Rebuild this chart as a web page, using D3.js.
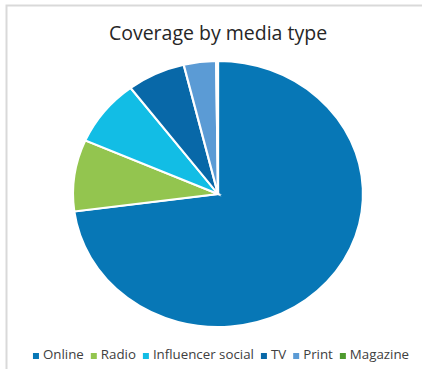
<!DOCTYPE html>
<html>
<head>
<meta charset="utf-8">
<script src="https://cdn.jsdelivr.net/npm/d3@7"></script>
<style>
  body { margin: 0; background: #fff; }
  svg { display: block; font-family: "Open Sans", "Noto Sans", sans-serif; }
</style>
</head>
<body>
<svg id="chart" width="422" height="369"></svg>
<script>
// pie data -------------------------------
var categories = ["Online", "Radio", "Influencer social", "TV", "Print", "Magazine"]
var shares     = [72.9, 8.7, 8.1, 6.5, 3.6, 0.2]
var colors     = ["#0777b6", "#93c54f", "#12bde5", "#0868a8", "#5b9bd5", "#4e9a2e"]

var data = categories.map((c, i) => ({name: c, value: shares[i]}))

var svg = d3.select("#chart"),
	width = +svg.attr("width"),
	height = +svg.attr("height");

// chart frame (only top and left edges visible)
svg.append("path")
	.attr("d", "M6.5,369V5.5H422")
	.attr("fill", "none")
	.attr("stroke", "#d9d9d9")
	.attr("stroke-width", 2)

svg.append("text")
	.attr("x", 218)
	.attr("y", 40)
	.attr("text-anchor", "middle")
	.attr("fill", "#262626")
	.style("font-size", "19.5px")
	.text("Coverage by media type")

var color = d3.scaleOrdinal()
	.domain(categories)
	.range(colors)

var pie = d3.pie()
	.value(d => d.value)
	.sort(null)

var r = 133
var arc = d3.arc()
	.innerRadius(0)
	.outerRadius(r)

// the reference pie is slightly stretched horizontally
var g = svg.append("g")
	.attr("transform", `translate(218,194) scale(${145 / r},1)`)

g.selectAll("path")
	.data(pie(data))
	.enter().append("path")
	.attr("d", arc)
	.attr("fill", d => color(d.data.name))
	.attr("stroke", "#fff")
	.attr("stroke-width", 2)

// legend
var legend = svg.append("g")
	.style("font-size", "13.3px")

var items = legend.selectAll("g")
	.data(categories)
	.enter().append("g")

items.append("rect")
	.attr("width", 6)
	.attr("height", 6)
	.attr("y", -6)
	.attr("fill", d => color(d))

items.append("text")
	.attr("x", 10)
	.attr("fill", "#404040")
	.text(d => d)

var xpos = 0
items.each(function() {
	var w = this.querySelector("text").getComputedTextLength()
	d3.select(this).attr("transform", `translate(${xpos},359)`)
	xpos += 10 + w + 7
})
legend.attr("transform", `translate(${221 - (xpos - 7) / 2},0)`)
</script>
</body>
</html>
